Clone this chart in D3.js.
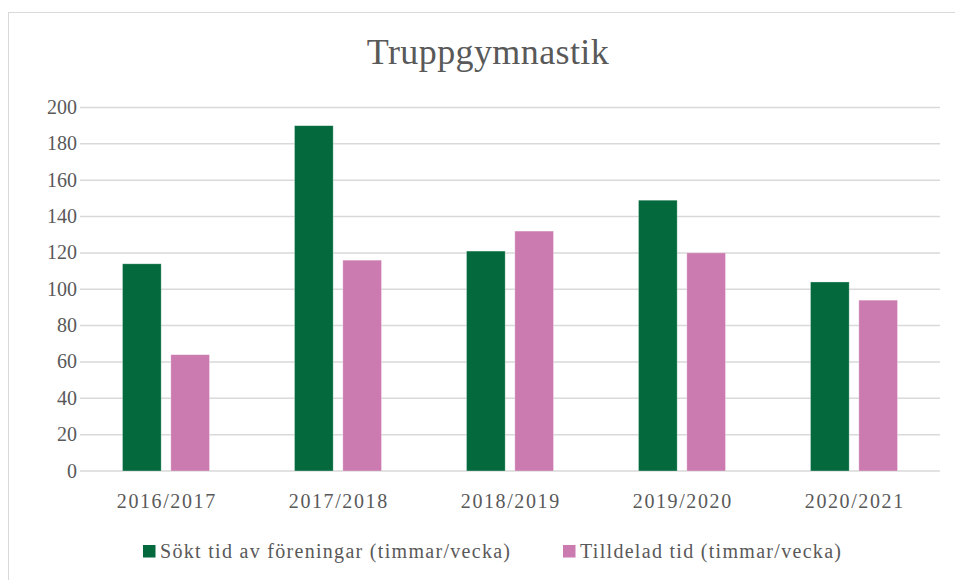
<!DOCTYPE html>
<html>
<head>
<meta charset="utf-8">
<script src="https://cdn.jsdelivr.net/npm/d3@7"></script>
<style>
  body { margin: 0; background: #fff; }
  text { font-family: "Liberation Serif", "DejaVu Serif", serif; fill: #595959; }
</style>
</head>
<body>
<div class="chart"></div>
<script>
var width = 955,
  height = 580

var seasons = ['2016/2017', '2017/2018', '2018/2019', '2019/2020', '2020/2021']
var soktTid = [114, 190, 121, 149, 104]
var tilldeladTid = [64, 116, 132, 120, 94]
var seriesNames = ['Sökt tid av föreningar (timmar/vecka)', 'Tilldelad tid (timmar/vecka)']
var seriesColors = ['#046a3e', '#cb7baf']
var yTicks = [0, 20, 40, 60, 80, 100, 120, 140, 160, 180, 200]

var svg = d3.select('.chart')
  .append('svg')
  .attr('width', width)
  .attr('height', height)

// outer frame
svg.append('rect')
  .attr('x', 8.5)
  .attr('y', 12.5)
  .attr('width', 960)
  .attr('height', 600)
  .attr('fill', '#fff')
  .attr('stroke', '#d9d9d9')

svg.append('text')
  .attr('x', 488)
  .attr('y', 64)
  .attr('text-anchor', 'middle')
  .style('font-size', '36px')
  .style('letter-spacing', '0.4px')
  .text('Truppgymnastik')

// scales
var xScale = d3.scaleBand()
  .domain(seasons)
  .range([80, 940])

var inner = d3.scaleBand()
  .domain([0, 1])
  .range([42.5, 172 - 42.5])
  .paddingInner(0.2)

var yScale = d3.scaleLinear()
  .domain([0, 200])
  .range([471, 107.5])

// grid
svg.append('g')
  .selectAll('line')
  .data(yTicks)
  .enter()
  .append('line')
  .attr('x1', 80)
  .attr('x2', 940)
  .attr('y1', d => yScale(d))
  .attr('y2', d => yScale(d))
  .attr('stroke', '#d9d9d9')
  .attr('stroke-width', 1.5)

// y labels
svg.append('g')
  .selectAll('text')
  .data(yTicks)
  .enter()
  .append('text')
  .attr('x', 77)
  .attr('y', d => yScale(d) + 6.5)
  .attr('text-anchor', 'end')
  .style('font-size', '20px')
  .text(d => d)

// bars
var groups = svg.append('g')
  .selectAll('g')
  .data(seasons)
  .enter()
  .append('g')
  .attr('transform', d => 'translate(' + xScale(d) + ',0)')

groups.selectAll('rect')
  .data((d, i) => [soktTid[i], tilldeladTid[i]])
  .enter()
  .append('rect')
  .attr('x', (d, j) => inner(j))
  .attr('width', inner.bandwidth())
  .attr('y', d => yScale(d))
  .attr('height', d => yScale(0) - yScale(d))
  .attr('fill', (d, j) => seriesColors[j])
  .attr('stroke', '#fff')
  .attr('stroke-opacity', 0.4)
  .attr('stroke-width', 0.75)

// x labels
svg.append('g')
  .selectAll('text')
  .data(seasons)
  .enter()
  .append('text')
  .attr('x', d => xScale(d) + xScale.bandwidth() / 2 + 0.8)
  .attr('y', 508)
  .attr('text-anchor', 'middle')
  .style('font-size', '20px')
  .style('letter-spacing', '1.6px')
  .text(d => d)

// legend
var legendX = [143, 563]
var legend = svg.append('g')
  .selectAll('g')
  .data(seriesNames)
  .enter()
  .append('g')
  .attr('transform', (d, i) => 'translate(' + legendX[i] + ',545)')

legend.append('rect')
  .attr('width', 12.5)
  .attr('height', 12.5)
  .attr('fill', (d, i) => seriesColors[i])

legend.append('text')
  .attr('x', 17)
  .attr('y', 13)
  .style('font-size', '20px')
  .style('letter-spacing', '1.3px')
  .text(d => d)
</script>
</body>
</html>
